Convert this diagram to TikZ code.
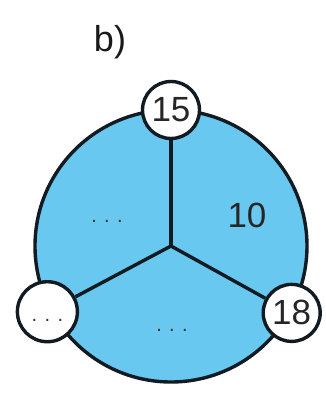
\documentclass[tikz,border=0pt]{standalone}
\usepackage{fontspec}
\setmainfont{Liberation Sans}
\usepackage{xcolor}
\usetikzlibrary{positioning,calc}
\definecolor{diskblue}{RGB}{104,200,240}
\definecolor{edgeink}{RGB}{18,26,34}

\begin{document}
\begin{tikzpicture}[
        x=1pt, y=1pt,
        every node/.style={font=\fontsize{35}{38}\selectfont, text=black!85},
        vertex/.style={circle, draw=edgeink, fill=white, line width=3.4pt, minimum size=57pt, inner sep=0pt},
        spoke/.style={draw=edgeink, line width=3.4pt},
        gapdots/.style={font=\fontsize{20}{22}\selectfont, text=black!80},
    ]
        \useasboundingbox (0,0) rectangle (326,394);
        \coordinate (hub) at (171,148);
        \fill[diskblue] (hub) circle (136);
        \draw[spoke] (hub) circle (136);

        \node[vertex] (top) at ($(hub)+(90:136)$) {15};
        \node[vertex] (right) at ($(hub)+(-29:138)$) {18};
        \node[vertex, minimum size=60pt, text height=20pt, text depth=0pt, gapdots] (left) at ($(hub)+(208:140)$) {. . .};

        \draw[spoke] (hub) -- (top);
        \draw[spoke] (hub) -- (right);
        \draw[spoke] (hub) -- (left);

        \node (weight) at (247,179) {10};
        \node[gapdots, anchor=base] (upperdots) at (107,171) {. . .};
        \node[gapdots, anchor=base] (lowerdots) at (172,62) {. . .};
        \node[font=\fontsize{36}{38}\selectfont, text=black!90] (caption) at (110,352) {b)};
    \end{tikzpicture}
\end{document}
